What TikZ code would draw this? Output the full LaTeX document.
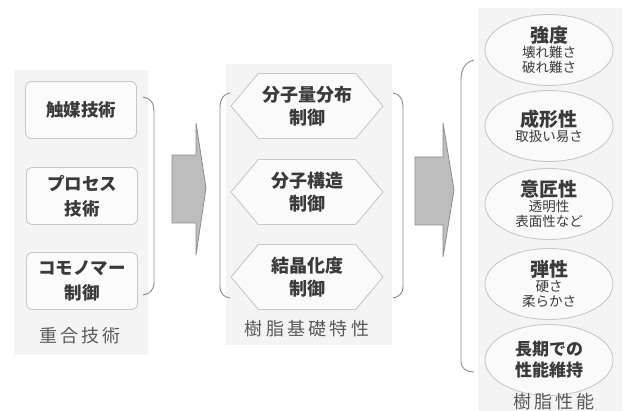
\documentclass[tikz,border=0pt]{standalone}
\usepackage{fontspec}
\setmainfont{Noto Sans CJK JP}
\usetikzlibrary{shapes.geometric,shapes.symbols}
\definecolor{txt}{HTML}{3A3A3A}
\definecolor{lbl}{HTML}{5A5A5A}
\definecolor{edge}{HTML}{C8C8C8}
\definecolor{panel}{HTML}{F4F4F4}
\definecolor{brk}{HTML}{8A8A8A}
\definecolor{arrfill}{HTML}{BDBDBD}
\definecolor{arredge}{HTML}{8C8C8C}
\newcommand\ovalhead[1]{{\fontsize{19}{21}\selectfont\bfseries #1}}
\tikzset{
  box/.style={draw=edge, line width=0.9pt, rounded corners=6pt, fill=white!60!panel,
    minimum width=111pt, minimum height=57pt, align=center, text=txt,
    font=\fontsize{17.5}{25}\selectfont\bfseries},
  hexa/.style={draw=edge, line width=0.9pt, shape=signal, signal to=east and west,
    signal pointer angle=100, fill=white!50!panel,
    minimum width=152pt, minimum height=65pt, inner sep=0pt},
  hextext/.style={align=center, text=txt, font=\fontsize{18}{23}\selectfont\bfseries},
  oval/.style={draw=edge, line width=0.9pt, ellipse, fill=white!50!panel,
    minimum width=128pt, minimum height=71pt, inner sep=0pt},
  ovaltext/.style={align=center, text=txt, font=\fontsize{13.5}{15}\selectfont},
  grouplabel/.style={text=lbl, font=\fontsize{18}{20}\selectfont\addfontfeatures{LetterSpace=18}},
  bracket/.style={draw=brk, line width=0.9pt},
  bigarrow/.style={draw=arredge, fill=arrfill, line width=0.8pt, line join=round},
  bg/.style={fill=panel, draw=none}
}
\begin{document}
\begin{tikzpicture}[x=1pt,y=-1pt]
\useasboundingbox (0,0) rectangle (635,411);
% panels
\fill[bg] (14,70) rectangle (148,355);
\fill[bg] (226,64) rectangle (392,345);
\fill[bg] (478,8) rectangle (622,411);
% left boxes
\node[box] (cat) at (81,110) {触媒技術};
\node[box] (proc) at (82,196) {プロセス\\技術};
\node[box] (como) at (82,281) {コモノマー\\制御};
\node[grouplabel] (lab1) at (80,336) {重合技術};
% left bracket
\draw[bracket] (143,97) .. controls (150,98) and (154,102) .. (154,112) -- (154,282) .. controls (154,290) and (150,294) .. (143,295);
% arrow 1
\draw[bigarrow] (172,155) -- (196,155) -- (196,123) -- (206,188) -- (196,255) -- (196,223) -- (172,223) -- cycle;
% hexagons
\node[hexa] (h1) at (307,106) {};
\node[hextext] (t1) at (h1.center) {分子量分布\\制御};
\node[hexa] (h2) at (307,192) {};
\node[hextext] (t2) at (h2.center) {分子構造\\制御};
\node[hexa] (h3) at (307,277) {};
\node[hextext] (t3) at (h3.center) {結晶化度\\制御};
\node[grouplabel] (lab2) at (307,329) {樹脂基礎特性};
% middle brackets
\draw[bracket] (230,93) .. controls (224,94) and (220,98) .. (220,108) -- (220,286) .. controls (220,294) and (224,297) .. (230,298);
\draw[bracket] (393,93) .. controls (399,94) and (403,98) .. (403,108) -- (403,286) .. controls (403,294) and (399,297) .. (393,298);
% arrow 2
\draw[bigarrow] (415,157) -- (443,157) -- (443,123) -- (454,190) -- (443,257) -- (443,225) -- (415,225) -- cycle;
% right bracket
\draw[bracket] (474,60) .. controls (466,62) and (461,68) .. (461,80) -- (461,362) .. controls (461,368) and (466,372) .. (474,372);
% ovals
\node[oval] (o1) at (549,50) {};
\node[ovaltext] (p1) at (o1.center) {\ovalhead{強度}\\壊れ難さ\\破れ難さ};
\node[oval] (o2) at (549,126) {};
\node[ovaltext] (p2) at (o2.center) {\ovalhead{成形性}\\取扱い易さ};
\node[oval] (o3) at (549,204) {};
\node[ovaltext] (p3) at (o3.center) {\ovalhead{意匠性}\\透明性\\表面性など};
\node[oval] (o4) at (549,284) {};
\node[ovaltext] (p4) at (o4.center) {\ovalhead{弾性}\\硬さ\\柔らかさ};
\node[oval] (o5) at (549,360) {};
\node[ovaltext, font=\fontsize{17}{21}\selectfont\bfseries] (p5) at (o5.center) {長期での\\性能維持};
\node[grouplabel] (lab3) at (554,402) {樹脂性能};
\end{tikzpicture}
\end{document}
